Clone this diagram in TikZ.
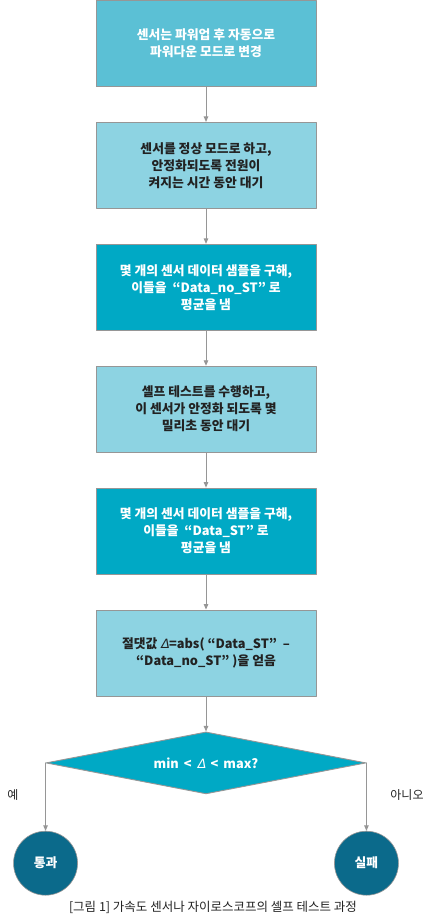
\documentclass[tikz,border=0pt]{standalone}
\usepackage{fontspec}
\setmainfont{Noto Sans CJK KR}
\newfontfamily\slantgreek[FakeSlant=0.2]{DejaVu Sans}
\usetikzlibrary{arrows.meta,positioning,shapes.geometric}
\definecolor{tealmid}{RGB}{91,192,213}
\definecolor{teallight}{RGB}{141,211,226}
\definecolor{tealdark}{RGB}{0,169,197}
\definecolor{tealdeep}{RGB}{11,106,139}
\definecolor{edgegray}{RGB}{150,150,150}
\definecolor{inkdark}{RGB}{34,34,34}
\newcommand{\dlt}{{\slantgreek\mdseries Δ}}

\begin{document}
\begin{tikzpicture}[x=1pt,y=-1pt,line cap=round,line join=round,
  font=\fontsize{12.8}{17}\selectfont\bfseries,
  stepbox/.style={rectangle,draw=edgegray,line width=0.9pt,minimum width=220pt,minimum height=86pt,align=center,inner sep=2pt},
  lightbox/.style={stepbox,fill=teallight,text=inkdark},
  darkbox/.style={stepbox,fill=tealdark,text=white},
  decision/.style={diamond,aspect=5,draw=edgegray,line width=0.9pt,fill=tealdark,text=white,minimum width=320pt,minimum height=62pt,inner sep=0pt},
  result/.style={circle,draw=edgegray,line width=0.6pt,fill=tealdeep,text=white,minimum size=64pt,inner sep=0pt},
  flow/.style={-{Triangle[length=5.5pt,width=4.5pt]},edgegray,line width=0.9pt},
  plain/.style={text=inkdark,font=\fontsize{12}{14}\selectfont},
  node distance=35pt]
\useasboundingbox (0,0) rectangle (433,919);
\node[stepbox,fill=tealmid,text=white] (powerup) at (206,43.5) {센서는 파워업 후 자동으로\\파워다운 모드로 변경};
\node[lightbox,below=of powerup] (settle) {센서를 정상 모드로 하고,\\안정화되도록 전원이\\켜지는 시간 동안 대기};
\node[darkbox,below=of settle] (sampleno) {몇 개의 센서 데이터 샘플을 구해,\\이들을 \ “Data\_no\_ST” 로\\평균을 냄};
\node[lightbox,below=of sampleno] (selftest) {셀프 테스트를 수행하고,\\이 센서가 안정화 되도록 몇\\밀리초 동안 대기};
\node[darkbox,below=of selftest] (samplest) {몇 개의 센서 데이터 샘플을 구해,\\이들을 \ “Data\_ST” 로\\평균을 냄};
\node[lightbox,below=of samplest] (delta) {절댓값 \dlt=abs( “Data\_ST” \ –\\“Data\_no\_ST” )을 얻음};
\node[decision,below=of delta] (check) {min \,<\, \dlt\, <\, max?};
\node[result,below=68pt of check.west] (pass) {통과};
\node[result,below=68pt of check.east] (fail) {실패};
\node[plain] (yes) at (13,795) {예};
\node[plain] (no) at (407,795) {아니오};
\node[plain,font=\fontsize{12.5}{14}\selectfont] (caption) at (213,907) {[그림 1] 가속도 센서나 자이로스코프의 셀프 테스트 과정};
% vertical flow
\draw[flow] (powerup) -- (settle);
\draw[flow] (settle) -- (sampleno);
\draw[flow] (sampleno) -- (selftest);
\draw[flow] (selftest) -- (samplest);
\draw[flow] (samplest) -- (delta);
\draw[flow] (delta) -- (check);
% branches
\draw[flow] (check.west) -- (pass);
\draw[flow] (check.east) -- (fail);
\end{tikzpicture}
\end{document}
